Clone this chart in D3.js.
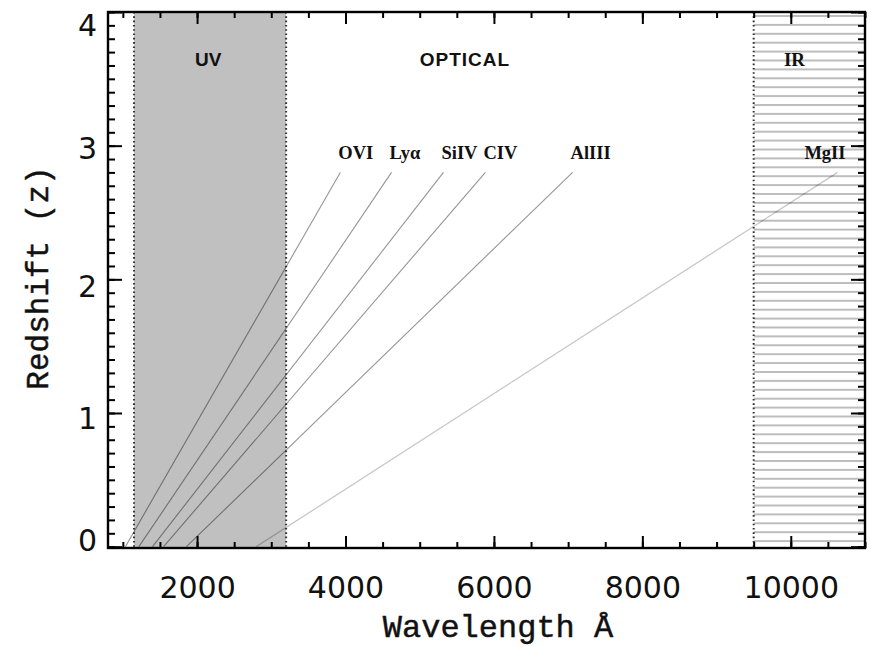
<!DOCTYPE html>
<html><head><meta charset="utf-8">
<script src="https://cdn.jsdelivr.net/npm/d3@7"></script>
<style>body{margin:0;background:#fff}svg{display:block}</style>
</head><body><svg id="c" width="871" height="647"></svg>
<script>
// ---- data ----
const xTicks = [2000, 4000, 6000, 8000, 10000];
const yTicks = [0, 1, 2, 3, 4];
const bandNames = ["UV", "OPTICAL", "IR"];
const bandStart = [1150, 3200, 9500];
const bandEnd = [3200, 9500, 11000];
const bandLabelX = [2150, 5610, 10050];
const lineNames = ["OVI", "Lyα", "SiIV", "CIV", "AlIII", "MgII"];
const lineStartWave = [1034, 1216, 1400, 1549, 1857, 2798];
const lineEndWave = [3930, 4620, 5320, 5885, 7060, 10630];
const lineStartZ = [0, 0, 0, 0, 0, 0];
const lineEndZ = [2.8, 2.8, 2.8, 2.8, 2.8, 2.8];

// ---- layout ----
const m = {l: 108, r: 865, t: 12, b: 548};
const x = d3.scaleLinear().domain([800, 11000]).range([m.l, m.r]);
const y = d3.scaleLinear().domain([-0.01, 4.0]).range([m.b, m.t]);
const svg = d3.select("#c");

const defs = svg.append("defs");
const pat = defs.append("pattern").attr("id", "hatch")
  .attr("patternUnits", "userSpaceOnUse").attr("width", 20).attr("height", 8.9)
  .attr("y", m.t + 3);
pat.append("rect").attr("width", 20).attr("height", 8.9).attr("fill", "#fff");
pat.append("line").attr("x1", 0).attr("x2", 20).attr("y1", 1).attr("y2", 1)
  .attr("stroke", "#bdbdbd").attr("stroke-width", 2);

// UV band
svg.append("rect")
  .attr("x", x(bandStart[0])).attr("y", m.t)
  .attr("width", x(bandEnd[0]) - x(bandStart[0])).attr("height", m.b - m.t)
  .attr("fill", "#c0c0c0");
// IR band (hatched)
svg.append("rect")
  .attr("x", x(bandStart[2])).attr("y", m.t)
  .attr("width", x(bandEnd[2]) - x(bandStart[2])).attr("height", m.b - m.t)
  .attr("fill", "url(#hatch)");

// dotted boundaries
[bandStart[0], bandEnd[0], bandStart[2]].forEach(v => {
  svg.append("line").attr("x1", x(v)).attr("x2", x(v)).attr("y1", m.t).attr("y2", m.b)
    .attr("stroke", "#333").attr("stroke-width", 2).attr("stroke-dasharray", "1.6 2.7");
});

// spectral lines
lineNames.forEach((n, i) => {
  svg.append("line")
    .attr("x1", x(lineStartWave[i])).attr("y1", y(lineStartZ[i]))
    .attr("x2", x(lineEndWave[i])).attr("y2", y(lineEndZ[i]))
    .attr("stroke", "#000").attr("stroke-opacity", i === 5 ? 0.22 : 0.42)
    .attr("stroke-width", i === 5 ? 1.3 : 1.1);
  const last = i === lineNames.length - 1;
  svg.append("text")
    .attr("x", last ? x(lineEndWave[i]) + 8 : x(lineEndWave[i]) - 2)
    .attr("y", y(2.9))
    .attr("text-anchor", last ? "end" : "start")
    .attr("font-family", "'Liberation Serif', serif").attr("font-weight", "bold")
    .attr("font-size", 18.5).attr("fill", "#111").text(n);
});

// band labels
bandNames.forEach((n, i) => {
  svg.append("text").attr("x", x(bandLabelX[i])).attr("y", 66)
    .attr("text-anchor", "middle")
    .attr("font-family", i === 2 ? "'Liberation Serif', serif" : "'Liberation Sans', sans-serif")
    .attr("font-weight", "bold").attr("font-size", 19)
    .attr("letter-spacing", i === 1 ? 1 : 0)
    .attr("fill", "#111").text(n);
});

// ---- axes ----
function styleAxis(g) {
  g.select(".domain").remove();
  g.selectAll("line").attr("stroke", "#000").attr("stroke-width", 2);
}
const xMinor = x.ticks(20), yMinor = y.ticks(40);
// bottom
svg.append("g").attr("transform", `translate(0,${m.b})`)
  .call(d3.axisBottom(x).tickValues(xMinor).tickSizeInner(-6).tickSizeOuter(0).tickFormat(""))
  .call(styleAxis);
const gxb = svg.append("g").attr("transform", `translate(0,${m.b})`)
  .call(d3.axisBottom(x).tickValues(xTicks).tickSizeInner(-12).tickSizeOuter(0).tickFormat(d3.format("d")))
  .call(styleAxis);
gxb.selectAll("text").attr("y", 50).attr("dy", null)
  .attr("font-family", "'DejaVu Sans', sans-serif").attr("font-size", 30).attr("fill", "#111");
// top
svg.append("g").attr("transform", `translate(0,${m.t})`)
  .call(d3.axisTop(x).tickValues(xMinor).tickSizeInner(-6).tickSizeOuter(0).tickFormat(""))
  .call(styleAxis);
svg.append("g").attr("transform", `translate(0,${m.t})`)
  .call(d3.axisTop(x).tickValues(xTicks).tickSizeInner(-12).tickSizeOuter(0).tickFormat(""))
  .call(styleAxis);
// left
svg.append("g").attr("transform", `translate(${m.l},0)`)
  .call(d3.axisLeft(y).tickValues(yMinor).tickSizeInner(-7).tickSizeOuter(0).tickFormat(""))
  .call(styleAxis);
const gyl = svg.append("g").attr("transform", `translate(${m.l},0)`)
  .call(d3.axisLeft(y).tickValues(yTicks).tickSizeInner(-14).tickSizeOuter(0).tickFormat(d3.format("d")))
  .call(styleAxis);
const yLabelShift = {0: -7, 1: 5, 2: 6, 3: 2, 4: 13};
gyl.selectAll("text").attr("x", -11).attr("dy", "0.36em")
  .attr("y", d => yLabelShift[d])
  .attr("font-family", "'DejaVu Sans', sans-serif").attr("font-size", 30).attr("fill", "#111");
// right
svg.append("g").attr("transform", `translate(${m.r},0)`)
  .call(d3.axisRight(y).tickValues(yMinor).tickSizeInner(-7).tickSizeOuter(0).tickFormat(""))
  .call(styleAxis);
svg.append("g").attr("transform", `translate(${m.r},0)`)
  .call(d3.axisRight(y).tickValues(yTicks).tickSizeInner(-14).tickSizeOuter(0).tickFormat(""))
  .call(styleAxis);

// frame
svg.append("rect").attr("x", m.l).attr("y", m.t).attr("width", m.r - m.l).attr("height", m.b - m.t)
  .attr("fill", "none").attr("stroke", "#000").attr("stroke-width", 2.4);

// titles
svg.append("text").attr("x", 498).attr("y", 637).attr("text-anchor", "middle")
  .attr("font-family", "'Liberation Mono', monospace")
  .attr("font-size", 32).attr("fill", "#111").attr("stroke", "#111").attr("stroke-width", 0.45)
  .text("Wavelength Å");
svg.append("text").attr("transform", "translate(48,278) rotate(-90)").attr("text-anchor", "middle")
  .attr("font-family", "'Liberation Mono', monospace")
  .attr("font-size", 31).attr("fill", "#111").attr("stroke", "#111").attr("stroke-width", 0.45)
  .text("Redshift (z)");
</script></body></html>
